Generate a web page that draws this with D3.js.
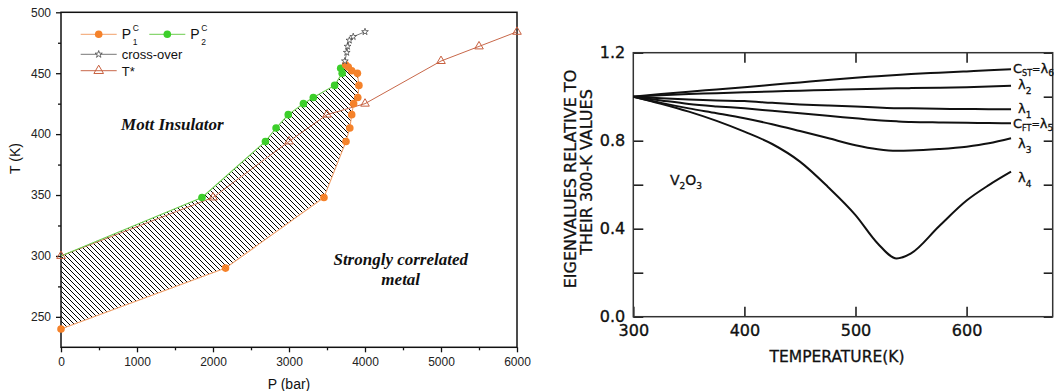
<!DOCTYPE html>
<html>
<head>
<meta charset="utf-8">
<script src="https://cdn.jsdelivr.net/npm/d3@7"></script>
<style>
body { margin: 0; background: #fff; }
svg { display: block; }
</style>
</head>
<body>
<script>
// ---- left panel: phase diagram, P (bar) vs T (K)
var pc1P = [0, 2165, 3460, 3750, 3800, 3825, 3850, 3905, 3920, 3900, 3825, 3780, 3745];
var pc1T = [240, 290, 348, 394, 405, 416, 425, 430, 440, 450, 452, 455, 457];
var pc2P = [0, 1855, 2690, 2830, 2990, 3190, 3320, 3600, 3700, 3680];
var pc2T = [300, 348, 394, 405, 416, 425, 430, 440, 450, 454];
var crossP = [3735, 3760, 3770, 3795, 3845, 4000];
var crossT = [460, 467, 472, 477, 480, 484];
var tStarP = [0, 2000, 3000, 3500, 4000, 5000, 5500, 6000];
var tStarT = [300, 348, 394, 416, 425, 460, 472, 484];
var pTicks = [0, 1000, 2000, 3000, 4000, 5000, 6000];
var pMinor = [500, 1500, 2500, 3500, 4500, 5500];
var tTicks = [250, 300, 350, 400, 450, 500];
var tMinor = [275, 325, 375, 425, 475];

// ---- right panel: eigenvalues relative to 300 K values
var tempK = [300, 325, 350, 375, 400, 425, 450, 475, 500, 520, 537, 550, 575, 600, 620, 640];
var lam6 = [1.0, 1.012, 1.023, 1.033, 1.043, 1.054, 1.065, 1.076, 1.086, 1.093, 1.099, 1.103, 1.109, 1.115, 1.12, 1.125];
var lam2 = [1.0, 1.007, 1.012, 1.016, 1.020, 1.024, 1.027, 1.031, 1.034, 1.036, 1.038, 1.039, 1.041, 1.043, 1.046, 1.05];
var lam1 = [1.0, 0.993, 0.987, 0.983, 0.980, 0.972, 0.965, 0.960, 0.955, 0.951, 0.948, 0.947, 0.945, 0.944, 0.943, 0.943];
var lam5 = [1.0, 0.983, 0.967, 0.956, 0.947, 0.936, 0.925, 0.913, 0.902, 0.893, 0.888, 0.885, 0.883, 0.882, 0.880, 0.879];
var lam3 = [1.0, 0.972, 0.947, 0.925, 0.902, 0.875, 0.844, 0.812, 0.779, 0.761, 0.754, 0.755, 0.762, 0.773, 0.788, 0.811];
var lam4 = [1.0, 0.968, 0.932, 0.89, 0.841, 0.785, 0.705, 0.591, 0.462, 0.333, 0.265, 0.288, 0.41, 0.528, 0.598, 0.659];
var tempTicks = [300, 400, 500, 600];
var eigTicks = [0, 0.2, 0.4, 0.6, 0.8, 1.0, 1.2];

var svg = d3.select("body").append("svg")
  .attr("width", 1054)
  .attr("height", 391);

// ================= left panel =================
var xL = d3.scaleLinear().domain([0, 6000]).range([61, 517]);
var yL = d3.scaleLinear().domain([225, 500]).range([347.3, 12.3]);

var left = svg.append("g")
  .style("font-family", "'Liberation Sans', Arial, sans-serif");

// hatch pattern (lines going down to the right)
var hs = 5;
var pat = svg.append("defs").append("pattern")
  .attr("id", "hatch")
  .attr("patternUnits", "userSpaceOnUse")
  .attr("width", hs).attr("height", hs);
pat.append("path")
  .attr("d", "M-1,-1 L" + (hs + 1) + "," + (hs + 1) +
             " M-1," + (hs - 1) + " L1," + (hs + 1) +
             " M" + (hs - 1) + ",-1 L" + (hs + 1) + ",1")
  .attr("stroke", "#000").attr("stroke-width", 1.2)
  .attr("shape-rendering", "crispEdges");

var pc1 = d3.zip(pc1P, pc1T);
var pc2 = d3.zip(pc2P, pc2T);
var cross = d3.zip(crossP, crossT);
var tStar = d3.zip(tStarP, tStarT);

var lineL = d3.line().x(d => xL(d[0])).y(d => yL(d[1]));

// coexistence region between P_c2 and P_c1
left.append("path")
  .attr("d", lineL(pc2.concat(pc1.slice().reverse())) + "Z")
  .attr("fill", "url(#hatch)")
  .attr("stroke", "none");

// axes
left.append("g")
  .attr("transform", "translate(0," + yL(225) + ")")
  .call(d3.axisBottom(xL).tickValues(pTicks).tickSize(5).tickPadding(5).tickFormat(d3.format("d")))
  .call(g => g.select(".domain").remove());
left.append("g")
  .attr("transform", "translate(0," + yL(225) + ")")
  .call(d3.axisBottom(xL).tickValues(pMinor).tickSize(3).tickFormat(""))
  .call(g => g.select(".domain").remove());
left.append("g")
  .attr("transform", "translate(" + xL(0) + ",0)")
  .call(d3.axisLeft(yL).tickValues(tTicks).tickSize(5).tickPadding(5))
  .call(g => g.select(".domain").remove());
left.append("g")
  .attr("transform", "translate(" + xL(0) + ",0)")
  .call(d3.axisLeft(yL).tickValues(tMinor).tickSize(3).tickFormat(""))
  .call(g => g.select(".domain").remove());
left.selectAll(".tick text").attr("font-size", 12).attr("fill", "#222")
  .style("font-family", "'Liberation Sans', Arial, sans-serif");
left.selectAll(".tick line").attr("stroke", "#111").attr("stroke-width", 1.3);

left.append("rect")
  .attr("x", xL(0)).attr("y", yL(500))
  .attr("width", xL(6000) - xL(0)).attr("height", yL(225) - yL(500))
  .attr("fill", "none").attr("stroke", "#111").attr("stroke-width", 1.5);

// lines
left.append("path").attr("d", lineL(tStar))
  .attr("fill", "none").attr("stroke", "#c8684a").attr("stroke-width", 1);
left.append("path").attr("d", lineL(pc2))
  .attr("fill", "none").attr("stroke", "#6ccc4e").attr("stroke-width", 1.1);
left.append("path").attr("d", lineL(pc1))
  .attr("fill", "none").attr("stroke", "#f2a06a").attr("stroke-width", 1.1);
left.append("path").attr("d", lineL(cross))
  .attr("fill", "none").attr("stroke", "#555").attr("stroke-width", 0.8);

// markers
left.selectAll(".tri").data(tStar).enter().append("path")
  .attr("transform", d => "translate(" + xL(d[0]) + "," + yL(d[1]) + ")")
  .attr("d", d3.symbol().type(d3.symbolTriangle).size(32))
  .attr("fill", "none").attr("stroke", "#c8603f").attr("stroke-width", 1);
// the P_c2 line starts on the T* point at P = 0 (no dot drawn there)
left.selectAll(".g2").data(pc2.filter(d => d[0] > 0)).enter().append("circle")
  .attr("cx", d => xL(d[0])).attr("cy", d => yL(d[1])).attr("r", 3.8)
  .attr("fill", "#3ccf2a");
left.selectAll(".o1").data(pc1).enter().append("circle")
  .attr("cx", d => xL(d[0])).attr("cy", d => yL(d[1])).attr("r", 3.8)
  .attr("fill", "#f5822a");
left.selectAll(".st").data(cross).enter().append("path")
  .attr("transform", d => "translate(" + xL(d[0]) + "," + yL(d[1]) + ")")
  .attr("d", d3.symbol().type(d3.symbolStar).size(14))
  .attr("fill", "#fff").attr("stroke", "#333").attr("stroke-width", 0.7);

// legend
var lg = left.append("g");
function legLine(x0, y, col) {
  lg.append("line").attr("x1", x0).attr("x2", x0 + 36).attr("y1", y).attr("y2", y)
    .attr("stroke", col).attr("stroke-width", 1);
}
legLine(80.7, 34.3, "#f2a06a");
lg.append("circle").attr("cx", 98.7).attr("cy", 34.3).attr("r", 3.8).attr("fill", "#f5822a");
legLine(149.3, 34.3, "#6ccc4e");
lg.append("circle").attr("cx", 167.3).attr("cy", 34.3).attr("r", 3.8).attr("fill", "#3ccf2a");
legLine(80.7, 54.3, "#777");
lg.append("path").attr("transform", "translate(98.7,54.3)")
  .attr("d", d3.symbol().type(d3.symbolStar).size(16))
  .attr("fill", "#fff").attr("stroke", "#333").attr("stroke-width", 0.7);
legLine(80.7, 70.7, "#c8684a");
lg.append("path").attr("transform", "translate(98.7,70.7)")
  .attr("d", d3.symbol().type(d3.symbolTriangle).size(40))
  .attr("fill", "none").attr("stroke", "#c8603f").attr("stroke-width", 1);

function pLabel(x, sub) {
  lg.append("text").attr("x", x).attr("y", 39).attr("font-size", 14).attr("fill", "#111").text("P");
  lg.append("text").attr("x", x + 11).attr("y", 31).attr("font-size", 8.5).attr("fill", "#111").text("C");
  lg.append("text").attr("x", x + 11).attr("y", 45).attr("font-size", 8.5).attr("fill", "#111").text(sub);
}
pLabel(121.7, "1");
pLabel(190.3, "2");
lg.append("text").attr("x", 121.7).attr("y", 58.8).attr("font-size", 13).attr("fill", "#111").text("cross-over");
lg.append("text").attr("x", 121.7).attr("y", 75.5).attr("font-size", 13).attr("fill", "#111").text("T*");

// region annotations
var serif = "'Liberation Serif', 'Times New Roman', serif";
function note(p, t, s) {
  left.append("text").attr("x", xL(p)).attr("y", yL(t))
    .attr("text-anchor", "middle").attr("font-family", serif)
    .attr("font-style", "italic").attr("font-weight", "bold")
    .attr("font-size", 17).attr("fill", "#111").text(s);
}
note(1465, 403.4, "Mott Insulator");
note(4470, 292.5, "Strongly correlated");
note(4470, 276, "metal");

// axis titles
left.append("text")
  .attr("transform", "translate(20," + yL(380) + ") rotate(-90)")
  .attr("text-anchor", "middle").attr("font-size", 14).attr("fill", "#111")
  .text("T (K)");
left.append("text")
  .attr("x", xL(3000)).attr("y", 389)
  .attr("text-anchor", "middle").attr("font-size", 14).attr("fill", "#111")
  .text("P (bar)");

// ================= right panel =================
var xR = d3.scaleLinear().domain([300, 677.5]).range([633.3, 1052.7]);
var yR = d3.scaleLinear().domain([0, 1.2]).range([316.7, 52.7]);

var right = svg.append("g")
  .style("font-family", "'DejaVu Sans', Verdana, sans-serif")
  .attr("fill", "#111");

var fmtY = d => (Math.round(d * 10) % 4 === 0 ? d.toFixed(1) : "");

right.append("g").attr("transform", "translate(" + xR(300) + ",0)")
  .call(d3.axisLeft(yR).tickValues(eigTicks).tickSize(-10).tickPadding(8).tickFormat(fmtY));
right.append("g").attr("transform", "translate(" + xR(677.5) + ",0)")
  .call(d3.axisRight(yR).tickValues(eigTicks).tickSize(-9).tickFormat(""));
right.append("g").attr("transform", "translate(0," + yR(0) + ")")
  .call(d3.axisBottom(xR).tickValues(tempTicks).tickSize(-10).tickPadding(8));
right.append("g").attr("transform", "translate(0," + yR(1.2) + ")")
  .call(d3.axisTop(xR).tickValues(tempTicks.slice(1)).tickSize(-10).tickFormat(""));
right.selectAll(".domain").remove();
right.selectAll(".tick line").attr("stroke", "#222").attr("stroke-width", 1.6);
right.selectAll(".tick text")
  .style("font-family", "'DejaVu Sans', Verdana, sans-serif")
  .attr("font-size", 16).attr("fill", "#111")
  .attr("stroke", "#111").attr("stroke-width", 0.35);

right.append("rect")
  .attr("x", xR(300)).attr("y", yR(1.2))
  .attr("width", xR(677.5) - xR(300)).attr("height", yR(0) - yR(1.2))
  .attr("fill", "none").attr("stroke", "#333").attr("stroke-width", 1.5);

var series = [
  { name: "cst", vals: lam6 },
  { name: "l2", vals: lam2 },
  { name: "l1", vals: lam1 },
  { name: "cft", vals: lam5 },
  { name: "l3", vals: lam3 },
  { name: "l4", vals: lam4 }
];

var lineR = d3.line()
  .x(d => xR(d[0])).y(d => yR(d[1]))
  .curve(d3.curveMonotoneX);

right.selectAll(".curve").data(series).enter().append("path")
  .attr("d", s => lineR(d3.zip(tempK, s.vals)))
  .attr("fill", "none").attr("stroke", "#111").attr("stroke-width", 2);

// curve labels at the right end
var lastT = tempK[tempK.length - 1];
function endY(vals, dy) { return yR(vals[vals.length - 1]) + dy; }

function curveLabel(x, y, main, sub, eqSub) {
  var t = right.append("text").attr("x", x).attr("y", y).attr("font-size", 13)
    .attr("stroke", "#111").attr("stroke-width", 0.3);
  if (eqSub) {
    t.append("tspan").text(main);
    t.append("tspan").attr("font-size", 8).attr("dy", 3).text(eqSub);
    t.append("tspan").attr("font-size", 10).attr("dy", -3).text("=");
    t.append("tspan").text("λ");
    t.append("tspan").attr("font-size", 9).attr("dy", 3).text(sub);
  } else {
    t.append("tspan").text("λ");
    t.append("tspan").attr("font-size", 9).attr("dy", 5).text(sub);
  }
}
curveLabel(xR(lastT) + 2, endY(lam6, 3.5), "C", "6", "ST");
curveLabel(xR(lastT) + 7, endY(lam2, 3.5), "", "2", null);
curveLabel(xR(lastT) + 7, endY(lam1, 4), "", "1", null);
curveLabel(xR(lastT) + 2, endY(lam5, 4.5), "C", "5", "FT");
curveLabel(xR(lastT) + 7, endY(lam3, 10), "", "3", null);
curveLabel(xR(lastT) + 7, endY(lam4, 10), "", "4", null);

// V2O3 tag
var v = right.append("text").attr("x", xR(333)).attr("y", yR(0.6))
  .attr("font-size", 14).attr("stroke", "#111").attr("stroke-width", 0.3);
v.append("tspan").text("V");
v.append("tspan").attr("font-size", 9).attr("dy", 4).text("2");
v.append("tspan").attr("dy", -4).text("O");
v.append("tspan").attr("font-size", 9).attr("dy", 4).text("3");

// axis titles
right.append("text")
  .attr("transform", "translate(570,179) rotate(-90)")
  .attr("text-anchor", "middle").attr("dominant-baseline", "central")
  .attr("font-size", 16).attr("stroke", "#111").attr("stroke-width", 0.3)
  .text("EIGENVALUES RELATIVE TO");
right.append("text")
  .attr("transform", "translate(586,172) rotate(-90)")
  .attr("text-anchor", "middle").attr("dominant-baseline", "central")
  .attr("font-size", 16).attr("stroke", "#111").attr("stroke-width", 0.3)
  .text("THEIR 300-K VALUES");
right.append("text")
  .attr("x", 837).attr("y", 362)
  .attr("text-anchor", "middle").attr("font-size", 15.5)
  .attr("stroke", "#111").attr("stroke-width", 0.3)
  .text("TEMPERATURE(K)");
</script>
</body>
</html>
